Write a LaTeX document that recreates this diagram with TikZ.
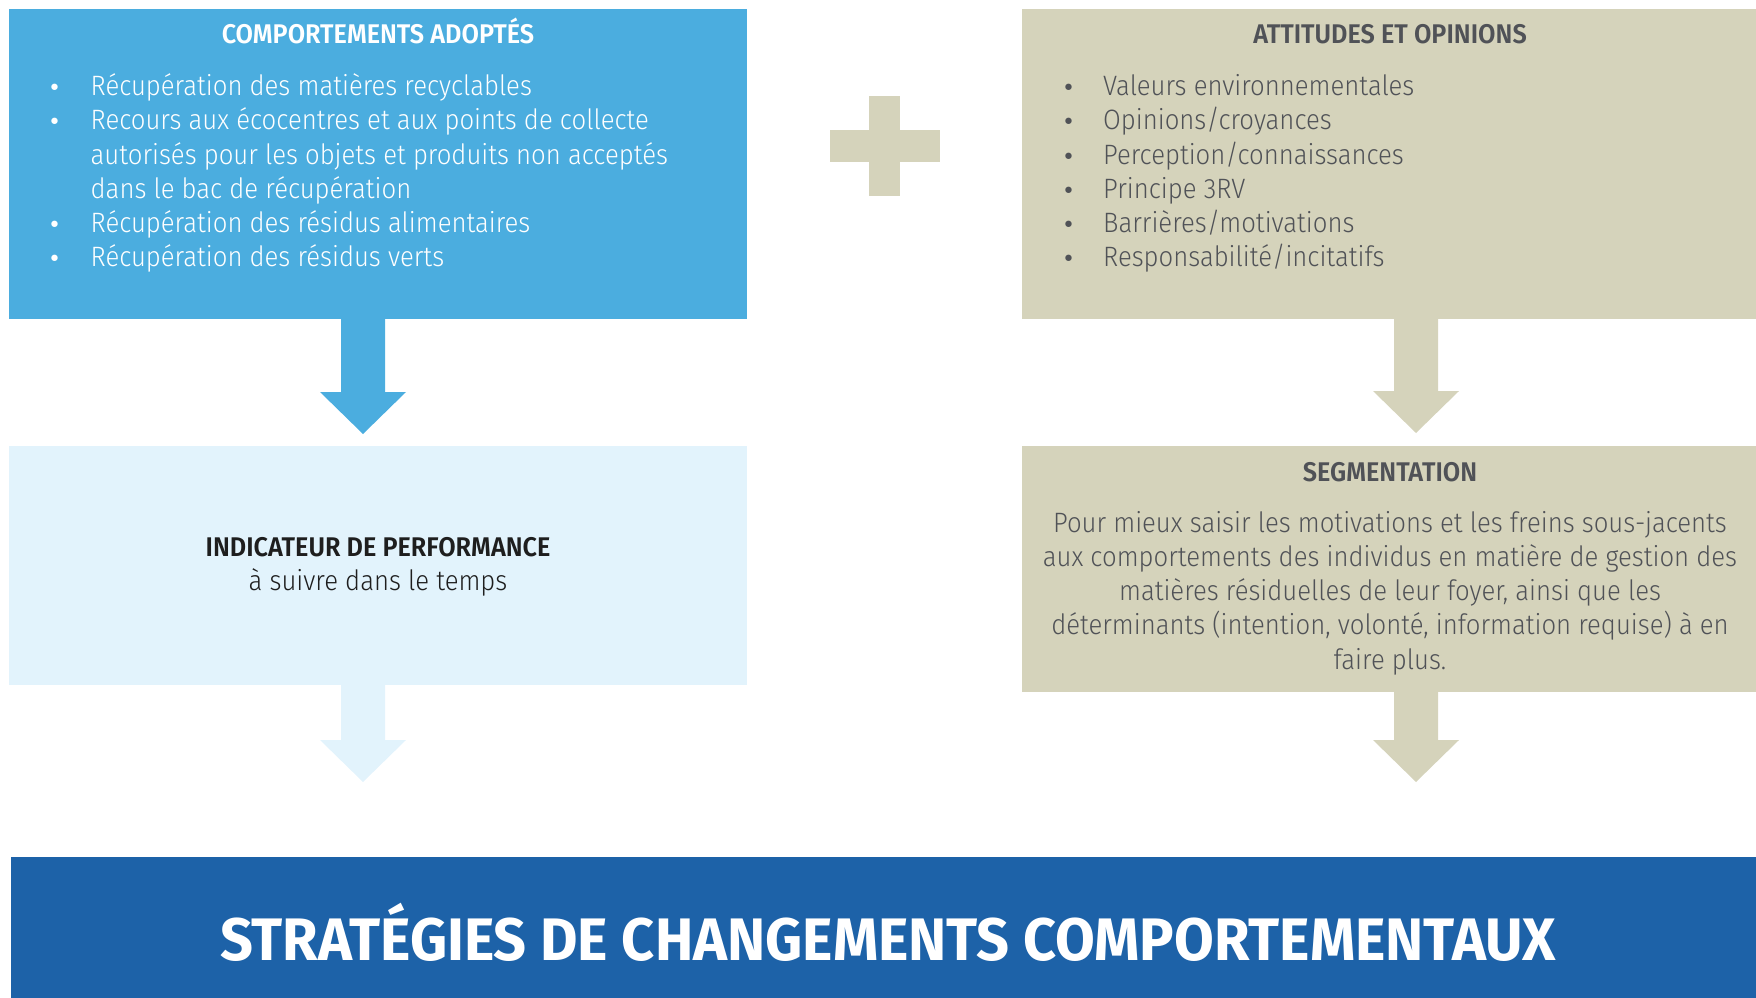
\documentclass[tikz,border=0pt]{standalone}
\usepackage{fontspec}
\usetikzlibrary{calc}
\setmainfont{Fira Sans Light}[FakeStretch=0.918]
\newfontfamily\headfont{Fira Sans SemiBold}[FakeStretch=0.935]
\newfontfamily\titlefont{Fira Sans Bold}[FakeStretch=0.96]
\newfontfamily\bulfont{DejaVu Sans}
\definecolor{bluemid}{HTML}{4BADDF}
\definecolor{bluepale}{HTML}{E2F3FC}
\definecolor{khaki}{HTML}{D5D3BB}
\definecolor{navy}{HTML}{1D62A8}
\definecolor{graytxt}{HTML}{505257}
\definecolor{darktxt}{HTML}{1E1E1E}
\newcommand\blockarrow[3]{%
  \fill[#1] ($(#2)+(-22,0)$) -- ($(#2)+(22,0)$) -- ($(#3)+(22,-42)$) -- ($(#3)+(43,-42)$)
    -- (#3) -- ($(#3)+(-43,-42)$) -- ($(#3)+(-22,-42)$) -- cycle;}
\newcommand\bul{{\bulfont\fontsize{22}{22}\selectfont •}}
\tikzset{
  box/.style={rectangle, inner sep=0pt, outer sep=0pt, draw=none},
  headtxt/.style={inner sep=0pt, font=\headfont\fontsize{27}{30}\selectfont},
  bodytxt/.style={inner sep=0pt, font=\fontsize{28}{34.3}\selectfont},
}
\begin{document}
\begin{tikzpicture}[x=1pt,y=-1pt]
\useasboundingbox (0,0) rectangle (1756,998);
% boxes
\node[box, fill=bluemid, minimum width=738pt, minimum height=310pt] (adopt) at (378,164) {};
\node[box, fill=khaki, minimum width=734pt, minimum height=310pt] (attit) at (1389,164) {};
\node[box, fill=bluepale, minimum width=738pt, minimum height=239pt] (indic) at (378,565.5) {};
\node[box, fill=khaki, minimum width=734pt, minimum height=246pt] (segm) at (1389,569) {};
\node[box, fill=navy, minimum width=1745pt, minimum height=142pt] (strat) at (883.5,928) {};
% plus
\fill[khaki] (869,96) rectangle (900,196);
\fill[khaki] (830,130) rectangle (940,162);
% arrows
\coordinate (xa) at (363,0);
\coordinate (xb) at (1416,0);
\coordinate (t1) at ($(indic.north -| xa)+(0,-12)$);
\coordinate (t2) at ($(segm.north -| xb)+(0,-13)$);
\coordinate (t3) at ($(strat.north -| xa)+(0,-75)$);
\coordinate (t4) at ($(strat.north -| xb)+(0,-75)$);
\blockarrow{bluemid}{adopt.south -| xa}{t1}
\blockarrow{khaki}{attit.south -| xb}{t2}
\blockarrow{bluepale}{indic.south -| xa}{t3}
\blockarrow{khaki}{segm.south -| xb}{t4}
% texts
\node[headtxt, text=white, anchor=base] (adoptT) at (378,44) {COMPORTEMENTS ADOPTÉS};
\node[bodytxt, text=white, anchor=base west] (adoptL) at (48,95.5) {%
\begin{tabular}[t]{@{}p{42.5pt}@{}l@{}}
\bul& Récupération des matières recyclables\\
\bul& Recours aux écocentres et aux points de collecte\\
 & autorisés pour les objets et produits non acceptés\\
 & dans le bac de récupération\\
\bul& Récupération des résidus alimentaires\\
\bul& Récupération des résidus verts
\end{tabular}};
\node[headtxt, text=graytxt, anchor=base] (attitT) at (1390,44) {ATTITUDES ET OPINIONS};
\node[bodytxt, text=graytxt, anchor=base west] (attitL) at (1062,95.5) {%
\begin{tabular}[t]{@{}p{41pt}@{}l@{}}
\bul& Valeurs environnementales\\
\bul& Opinions/croyances\\
\bul& Perception/connaissances\\
\bul& Principe 3RV\\
\bul& Barrières/motivations\\
\bul& Responsabilité/incitatifs
\end{tabular}};
\node[headtxt, text=darktxt, anchor=base] (indicT) at (378,556) {INDICATEUR DE PERFORMANCE};
\node[bodytxt, text=darktxt, anchor=base] (indicS) at (378,590) {à suivre dans le temps};
\node[headtxt, text=graytxt, anchor=base] (segmT) at (1390,481) {SEGMENTATION};
\node[bodytxt, text=graytxt, anchor=base] (segmP) at (1390,532) {%
\begin{tabular}[t]{@{}c@{}}
Pour mieux saisir les motivations et les freins sous-jacents\\
aux comportements des individus en matière de gestion des\\
matières résiduelles de leur foyer, ainsi que les\\
déterminants (intention, volonté, information requise) à en\\
faire plus.
\end{tabular}};
\node[inner sep=0pt, text=white, anchor=base, font=\titlefont\fontsize{60}{66}\selectfont] (stratT) at (888,960) {STRATÉGIES DE CHANGEMENTS COMPORTEMENTAUX};
\end{tikzpicture}
\end{document}
